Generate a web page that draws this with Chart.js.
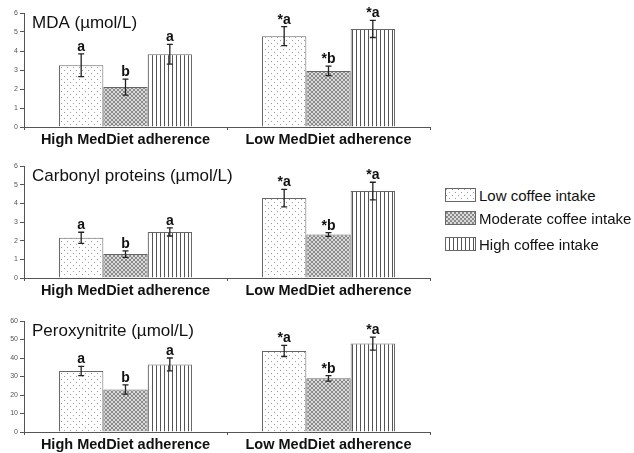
<!DOCTYPE html>
<html>
<head>
<meta charset="utf-8">
<script src="https://cdn.jsdelivr.net/npm/chart.js@4.4.0/dist/chart.umd.min.js"></script>
<style>
  body { margin: 0; background: #fff; width: 634px; height: 453px; overflow: hidden; position: relative;
         font-family: "Liberation Sans", Arial, sans-serif; }
  .panel { position: absolute; left: 0; width: 432px; }
  .legend-row { position: absolute; left: 445px; height: 14px; display: flex; align-items: center;
                font-size: 15px; color: #111; white-space: nowrap; }
  .legend-row canvas { margin-right: 3px; }
</style>
</head>
<body>
<div class="panel" style="top:0;height:150px"><canvas id="c-mda"></canvas></div>
<div class="panel" style="top:150px;height:150px"><canvas id="c-carb"></canvas></div>
<div class="panel" style="top:300px;height:153px"><canvas id="c-perox"></canvas></div>
<div id="legend"></div>

<script>
// categorias y series
const categories = ["High MedDiet adherence", "Low MedDiet adherence"];
const seriesNames = ["Low coffee intake", "Moderate coffee intake", "High coffee intake"];

// MDA (µmol/L) - filas = series (low, moderate, high)
const mdaValues = [[3.25, 4.78], [2.1, 2.95], [3.83, 5.16]];
const mdaErrors = [[0.6, 0.5], [0.42, 0.25], [0.52, 0.45]];
const mdaLetters = [["a", "*a"], ["b", "*b"], ["a", "*a"]];

// Carbonyl proteins (µmol/L)
const carbValues = [[2.15, 4.28], [1.28, 2.33], [2.47, 4.66]];
const carbErrors = [[0.3, 0.47], [0.17, 0.1], [0.22, 0.47]];
const carbLetters = [["a", "*a"], ["b", "*b"], ["a", "*a"]];

// Peroxynitrite (µmol/L)
const peroxValues = [[33, 43.8], [23, 29], [36.5, 47.8]];
const peroxErrors = [[2.5, 3], [2.5, 1.5], [3.5, 3.5]];
const peroxLetters = [["a", "*a"], ["b", "*b"], ["a", "*a"]];

const yTicksSmall = [0, 1, 2, 3, 4, 5, 6];
const yTicksLarge = [0, 10, 20, 30, 40, 50, 60];

// --- patrones de relleno ---
function makeTile(w, h, draw) {
  const c = document.createElement("canvas");
  c.width = w; c.height = h;
  draw(c.getContext("2d"));
  return c;
}
const tileDots = makeTile(6, 6, g => {
  g.fillStyle = "#fff"; g.fillRect(0, 0, 6, 6);
  g.fillStyle = "#9a9a9a"; g.fillRect(1, 1, 1, 1); g.fillRect(4, 4, 1, 1);
});
const tileCross = makeTile(4, 4, g => {
  g.fillStyle = "#dadada"; g.fillRect(0, 0, 4, 4);
  g.fillStyle = "#8a8a8a";
  for (let i = 0; i < 4; i++) { g.fillRect(i, i, 1, 1); g.fillRect(3 - i, i, 1, 1); }
});
const tileLines = makeTile(4, 4, g => {
  g.fillStyle = "#fff"; g.fillRect(0, 0, 4, 4);
  g.fillStyle = "#555"; g.fillRect(0, 0, 1, 4);
});
const tiles = [tileDots, tileCross, tileLines];
const patCtx = document.createElement("canvas").getContext("2d");
const patterns = tiles.map(t => patCtx.createPattern(t, "repeat"));

// barras de error + letras
const errorLetterPlugin = {
  id: "errLetters",
  afterDatasetsDraw(chart, args, opts) {
    const { ctx } = chart;
    const y = chart.scales.y;
    ctx.save();
    chart.data.datasets.forEach((ds, di) => {
      const meta = chart.getDatasetMeta(di);
      meta.data.forEach((bar, i) => {
        const v = ds.data[i], e = opts.errors[di][i];
        const yt = y.getPixelForValue(v + e), yb = y.getPixelForValue(v - e);
        ctx.strokeStyle = "#222"; ctx.lineWidth = 1.3;
        ctx.beginPath();
        ctx.moveTo(bar.x, yt); ctx.lineTo(bar.x, yb);
        ctx.moveTo(bar.x - 3, yt); ctx.lineTo(bar.x + 3, yt);
        ctx.moveTo(bar.x - 3, yb); ctx.lineTo(bar.x + 3, yb);
        ctx.stroke();
        ctx.fillStyle = "#111";
        ctx.font = "bold 14px 'Liberation Sans', Arial, sans-serif";
        ctx.textAlign = "center"; ctx.textBaseline = "alphabetic";
        ctx.fillText(opts.letters[di][i], bar.x, yt - 3);
      });
    });
    ctx.restore();
  }
};

const panelTitlePlugin = {
  id: "panelTitle",
  afterDraw(chart, args, opts) {
    const { ctx, chartArea } = chart;
    ctx.save();
    ctx.fillStyle = "#111";
    ctx.font = "17px 'Liberation Sans', Arial, sans-serif";
    ctx.textAlign = "left"; ctx.textBaseline = "middle";
    ctx.fillText(opts.text, chartArea.left + 8, chartArea.top + 10);
    ctx.restore();
  }
};

function crearPanel(id, title, values, errors, letters, ticks, top, bottomSpace) {
  const max = ticks[ticks.length - 1];
  new Chart(document.getElementById(id), {
    type: "bar",
    data: {
      labels: categories,
      datasets: seriesNames.map((name, s) => ({
        label: name,
        data: values[s],
        backgroundColor: patterns[s],
        borderColor: "#666",
        borderWidth: 1,
        categoryPercentage: 0.655,
        barPercentage: 1
      }))
    },
    options: {
      responsive: true,
      maintainAspectRatio: false,
      animation: false,
      layout: { padding: { top: top, right: 2, left: 0, bottom: 0 } },
      plugins: {
        legend: { display: false },
        tooltip: { enabled: false },
        errLetters: { errors, letters },
        panelTitle: { text: title }
      },
      scales: {
        x: {
          grid: { drawOnChartArea: false, tickLength: 3, color: "#555" },
          border: { color: "#555" },
          ticks: { color: "#111", padding: 1, maxRotation: 0, autoSkip: false,
                   font: { size: 14.5, weight: "bold", family: "'Liberation Sans', Arial, sans-serif" } },
          afterFit: s => { s.height = bottomSpace; }
        },
        y: {
          min: 0, max: max,
          afterBuildTicks: s => { s.ticks = ticks.map(v => ({ value: v })); },
          grid: { drawOnChartArea: false, tickLength: 4, color: "#555" },
          border: { color: "#555" },
          ticks: { color: "#555", padding: 2, font: { size: 7, family: "'Liberation Sans', Arial, sans-serif" } },
          afterFit: s => { s.width = 24; }
        }
      }
    },
    plugins: [errorLetterPlugin, panelTitlePlugin]
  });
}

crearPanel("c-mda", "MDA (µmol/L)", mdaValues, mdaErrors, mdaLetters, yTicksSmall, 13, 23);
crearPanel("c-carb", "Carbonyl proteins (µmol/L)", carbValues, carbErrors, carbLetters, yTicksSmall, 16, 22);
crearPanel("c-perox", "Peroxynitrite (µmol/L)", peroxValues, peroxErrors, peroxLetters, yTicksLarge, 21, 21);

// leyenda HTML
const legendTops = [188, 211, 237];
const legend = document.getElementById("legend");
seriesNames.forEach((name, s) => {
  const row = document.createElement("div");
  row.className = "legend-row";
  row.style.top = legendTops[s] + "px";
  const sw = document.createElement("canvas");
  sw.width = 31; sw.height = 14;
  const g = sw.getContext("2d");
  g.fillStyle = g.createPattern(tiles[s], "repeat");
  g.fillRect(0, 0, 31, 14);
  g.strokeStyle = "#666"; g.lineWidth = 1;
  g.strokeRect(0.5, 0.5, 30, 13);
  row.appendChild(sw);
  const txt = document.createElement("span");
  txt.textContent = name;
  row.appendChild(txt);
  legend.appendChild(row);
});
</script>
</body>
</html>
